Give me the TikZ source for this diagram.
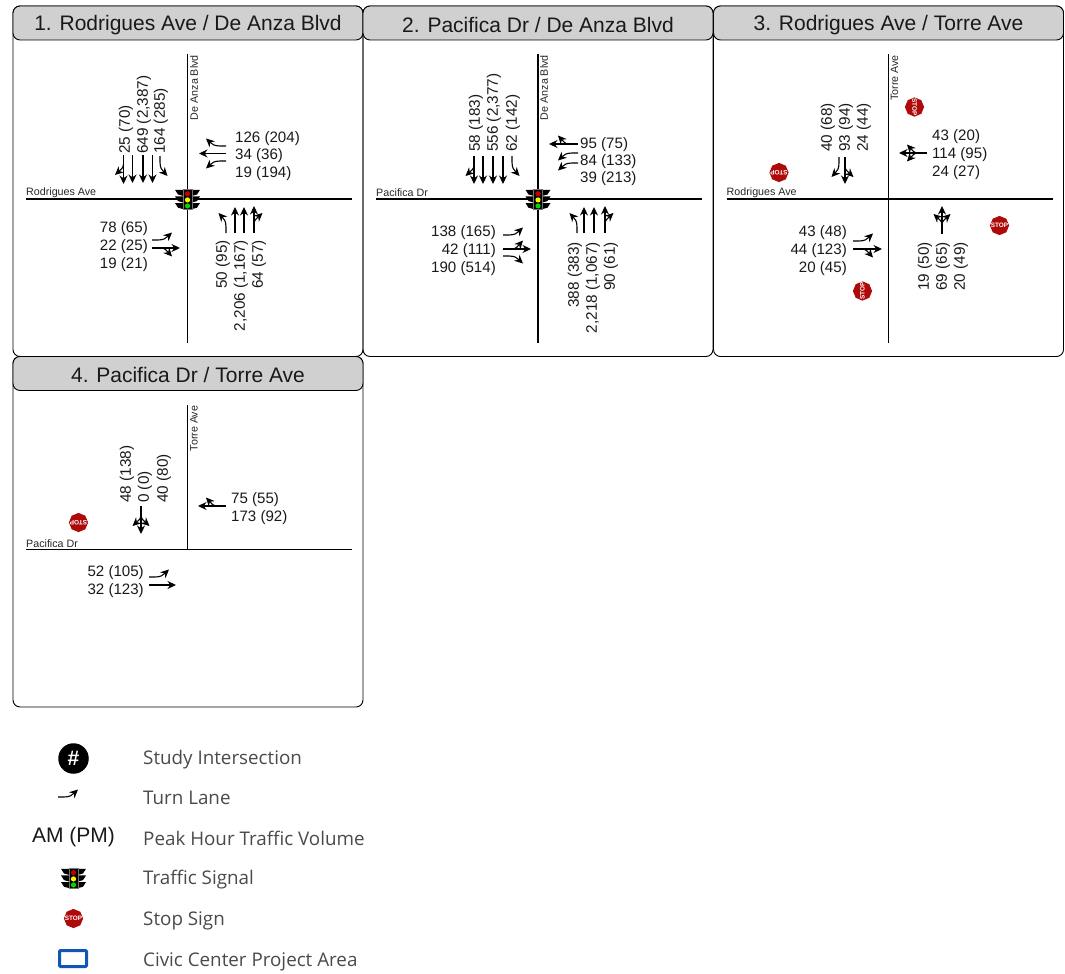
\documentclass[tikz,border=0pt]{standalone}
\usepackage{fontspec}
\setmainfont{Liberation Sans}
\newfontfamily\legfont{Open Sans}
\usetikzlibrary{arrows.meta,shapes.geometric}
\definecolor{stopred}{HTML}{AE0A0A}
\definecolor{titlegray}{HTML}{D0D0D0}
\definecolor{legtext}{HTML}{4A4A4A}
\definecolor{areablue}{HTML}{1155B5}
\newcounter{nn}
\tikzset{
  arr/.style={-{Stealth[length=8.5pt,width=8pt]},line width=1.1pt,black},
  roadline/.style={line width=1.2pt,black},
  panelbox/.style={line width=0.9pt,rounded corners=7pt},
  titlebox/.style={line width=0.9pt,rounded corners=7pt,fill=titlegray},
  vol/.style={inner sep=0pt,font=\fontsize{15.1}{18}\selectfont,text=black!90},
  volrot/.style={inner sep=0pt,font=\fontsize{15.3}{18}\selectfont,text=black!90},
  roadlbl/.style={inner sep=0pt,font=\fontsize{10.7}{12}\selectfont,text=black!85},
  titlelbl/.style={inner sep=0pt,font=\fontsize{21}{25}\selectfont,text=black!90},
  leglbl/.style={inner sep=0pt,anchor=west,font=\legfont\fontsize{18.8}{22}\selectfont,text=legtext},
  stopsgn/.style={regular polygon,regular polygon sides=8,shape border rotate=22.5,minimum size=19.2pt,inner sep=0pt,fill=stopred},
  stoptxt/.style={inner sep=0pt,text=white,font=\fontsize{6.4}{7}\selectfont\bfseries},
}
\newcommand\tfThr[4]{\draw[arr,shift={(#1,#2)},rotate=#3] (0,0) -- (#4,0);}
\newcommand\tfTrn[4]{\draw[arr,shift={(#1,#2)},rotate=#3] (0,0) -- (6,0) .. controls (12,0) and (14,#4*2) .. (20,#4*7.5);}
\newcommand\tfBrn[4]{\draw[arr,shift={(#1,#2)},rotate=#3] (9,0) .. controls (13,0) and (15,#4*3) .. (20,#4*8.5);}
\newcommand\tfLab[4]{\stepcounter{nn}\node[vol,anchor=#3] (v\thenn) at (#1,#2+1.5) {#4};}
\newcommand\tfRot[4]{\stepcounter{nn}\node[volrot,rotate=90,anchor=#3] (v\thenn) at (#1+0.8,#2) {#4};}
\newcommand\tfStop[3]{\stepcounter{nn}\node[stopsgn] (s\thenn) at (#1,#2) {};\node[stoptxt,rotate=#3] (x\thenn) at (s\thenn.center) {STOP};}
\newcommand\tfSig[2]{\begin{scope}[shift={(#1,#2)}]
  \foreach \s in {1,-1}{\foreach \v in {-6.6,0,6.6}{
    \fill[black] (\s*4,\v-3.1) -- (\s*12.5,\v-3.1) -- (\s*9.5,\v+1.6) -- (\s*4,\v+3.1) -- cycle;}}
  \fill[black!55] (-5,-10.5) rectangle (5,10.5);
  \fill[black] (-4,-9.5) rectangle (4,9.5);
  \fill[red!75!black] (0,-5.8) circle (2.6);
  \fill[yellow] (0,0.4) circle (2.6);
  \fill[green!85!black] (0,6.4) circle (2.6);
\end{scope}}
\newcommand\tfPanel[5]{% x0 y0 title hroad-label vroad-label
  \begin{scope}[shift={(#1,#2)}]
  \draw[panelbox] (0,0) rectangle (350,350.5);
  \draw[titlebox] (0,0) rectangle (350,34);
  \stepcounter{nn}\node[titlelbl] (t\thenn) at (175,18.7) {#3};
  \stepcounter{nn}\node[roadlbl,anchor=west] (r\thenn) at (13,186.7) {#4};
  \stepcounter{nn}\node[roadlbl,rotate=90,anchor=east] (r\thenn) at (181,49) {#5};
  \draw[roadline] (13,193) -- (339,193);
  \end{scope}}
\begin{document}
\begin{tikzpicture}[x=1pt,y=-1pt]
\useasboundingbox (0,0) rectangle (1065,974);
% ---- panels
\tfPanel{13}{6}{1. Rodrigues Ave / De Anza Blvd}{Rodrigues Ave}{De Anza Blvd}
\tfPanel{363}{6}{2. Pacifica Dr / De Anza Blvd}{Pacifica Dr}{De Anza Blvd}
\tfPanel{713.5}{6}{3. Rodrigues Ave / Torre Ave}{Rodrigues Ave}{Torre Ave}
\tfPanel{13}{356.5}{4. Pacifica Dr / Torre Ave}{Pacifica Dr}{Torre Ave}
\draw[roadline] (187.5,54) -- (187.5,343);
\draw[roadline] (538,54) -- (538,343);
\draw[roadline] (888.5,54) -- (888.5,343);
\draw[roadline] (187.5,405) -- (187.5,549.5);
% ---- panel 1
\tfThr{123.5}{155}{-90}{29}\tfBrn{123.5}{155}{-90}{1}
\tfThr{132.5}{155}{-90}{28}\tfThr{143}{155}{-90}{28}\tfThr{152.5}{155}{-90}{28}
\tfTrn{160}{156}{-90}{-1}
\tfTrn{226}{146}{180}{1}\tfThr{226}{153.5}{180}{27}\tfTrn{226}{161}{180}{-1}
\tfTrn{226}{233}{90}{-1}\tfThr{235}{233}{90}{26}\tfThr{244}{233}{90}{26}
\tfThr{254}{233}{90}{27}\tfBrn{254}{233}{90}{1}
\tfTrn{152}{240}{0}{-1}\tfThr{152}{248}{0}{28}\tfBrn{152}{248}{0}{1}
\tfRot{125}{154}{west}{25 (70)}\tfRot{143}{154}{west}{649 (2,387)}\tfRot{160}{154}{west}{164 (285)}
\tfLab{235}{137}{west}{126 (204)}\tfLab{235}{154}{west}{34 (36)}\tfLab{235}{172}{west}{19 (194)}
\tfRot{222}{240}{east}{50 (95)}\tfRot{240}{240}{east}{2,206 (1,167)}\tfRot{258}{240}{east}{64 (57)}
\tfLab{148}{227}{east}{78 (65)}\tfLab{148}{245}{east}{22 (25)}\tfLab{148}{263}{east}{19 (21)}
\tfSig{187.5}{199.5}
% ---- panel 2
\tfThr{474}{156}{-90}{28}\tfBrn{474}{156}{-90}{1}
\tfThr{483}{156}{-90}{28}\tfThr{493}{156}{-90}{28}\tfThr{503}{156}{-90}{28}
\tfTrn{512}{156}{-90}{-1}
\tfThr{578}{144}{180}{29}\tfBrn{578}{144}{180}{1}
\tfTrn{578}{153}{180}{-1}\tfTrn{578}{163}{180}{-1}
\tfTrn{577}{233}{90}{-1}\tfThr{584}{233}{90}{26}\tfThr{594}{233}{90}{26}
\tfThr{605}{233}{90}{27}\tfBrn{605}{233}{90}{1}
\tfTrn{503}{235}{0}{-1}\tfThr{503}{249}{0}{28}\tfBrn{503}{249}{0}{-1}\tfTrn{503}{256}{0}{1}
\tfRot{475}{152}{west}{58 (183)}\tfRot{493}{152}{west}{556 (2,377)}\tfRot{512}{152}{west}{62 (142)}
\tfLab{580}{143}{west}{95 (75)}\tfLab{580}{160}{west}{84 (133)}\tfLab{580}{177}{west}{39 (213)}
\tfRot{574}{242}{east}{388 (383)}\tfRot{592}{242}{east}{2,218 (1,067)}\tfRot{610}{242}{east}{90 (61)}
\tfLab{496}{231}{east}{138 (165)}\tfLab{496}{249}{east}{42 (111)}\tfLab{496}{267}{east}{190 (514)}
\tfSig{538}{199.5}
% ---- panel 3
\tfTrn{839}{157}{-90}{1}
\tfThr{845}{157}{-90}{27}\tfBrn{845}{157}{-90}{-1}
\tfThr{927}{153}{180}{28}\tfBrn{927}{153}{180}{1}\tfBrn{927}{153}{180}{-1}
\tfThr{942}{234}{90}{28}\tfBrn{942}{234}{90}{1}\tfBrn{942}{234}{90}{-1}
\tfTrn{853}{241}{0}{-1}\tfThr{853}{249}{0}{29}\tfBrn{853}{249}{0}{1}
\tfRot{827}{152}{west}{40 (68)}\tfRot{845}{152}{west}{93 (94)}\tfRot{863}{152}{west}{24 (44)}
\tfLab{932}{135}{west}{43 (20)}\tfLab{932}{153}{west}{114 (95)}\tfLab{932}{171}{west}{24 (27)}
\tfRot{924}{242}{east}{19 (50)}\tfRot{942}{242}{east}{69 (65)}\tfRot{960}{242}{east}{20 (49)}
\tfLab{847}{231}{east}{43 (48)}\tfLab{847}{249}{east}{44 (123)}\tfLab{847}{267}{east}{20 (45)}
\tfStop{914.5}{107}{-90}\tfStop{779}{172.5}{180}\tfStop{999.5}{225.5}{0}\tfStop{862.5}{291}{90}
% ---- panel 4
\tfThr{141}{506}{-90}{28}\tfBrn{141}{506}{-90}{1}\tfBrn{141}{506}{-90}{-1}
\tfThr{226}{506}{180}{28}\tfBrn{226}{506}{180}{1}
\tfTrn{149}{577}{0}{-1}\tfThr{149}{585}{0}{27}
\tfRot{126}{503}{west}{48 (138)}\tfRot{144}{503}{west}{0 (0)}\tfRot{163}{503}{west}{40 (80)}
\tfLab{231}{498}{west}{75 (55)}\tfLab{231}{516}{west}{173 (92)}
\tfLab{144}{571}{east}{52 (105)}\tfLab{144}{589}{east}{32 (123)}
\tfStop{78.5}{522.5}{180}
% ---- legend
\node[circle,fill=black,minimum size=30.5pt,inner sep=0pt,text=white,font=\fontsize{21}{24}\selectfont\bfseries] (lg1) at (73.5,758.5) {\#};
\tfTrn{58}{797}{0}{-1}
\node[vol,font=\fontsize{21}{24}\selectfont] (lg3) at (73.5,837) {AM (PM)};
\tfSig{73.5}{878.5}
\tfStop{73.5}{918.5}{0}
\draw[areablue,line width=3pt,rounded corners=1pt] (59.5,950.5) rectangle (86.5,966.5);
\node[leglbl] (lt1) at (143,760) {Study Intersection};
\node[leglbl] (lt2) at (143,798) {Turn Lane};
\node[leglbl] (lt3) at (143,838) {Peak Hour Traffic Volume};
\node[leglbl] (lt4) at (143,880) {Traffic Signal};
\node[leglbl] (lt5) at (143,921) {Stop Sign};
\node[leglbl] (lt6) at (143,961.5) {Civic Center Project Area};
\end{tikzpicture}
\end{document}
